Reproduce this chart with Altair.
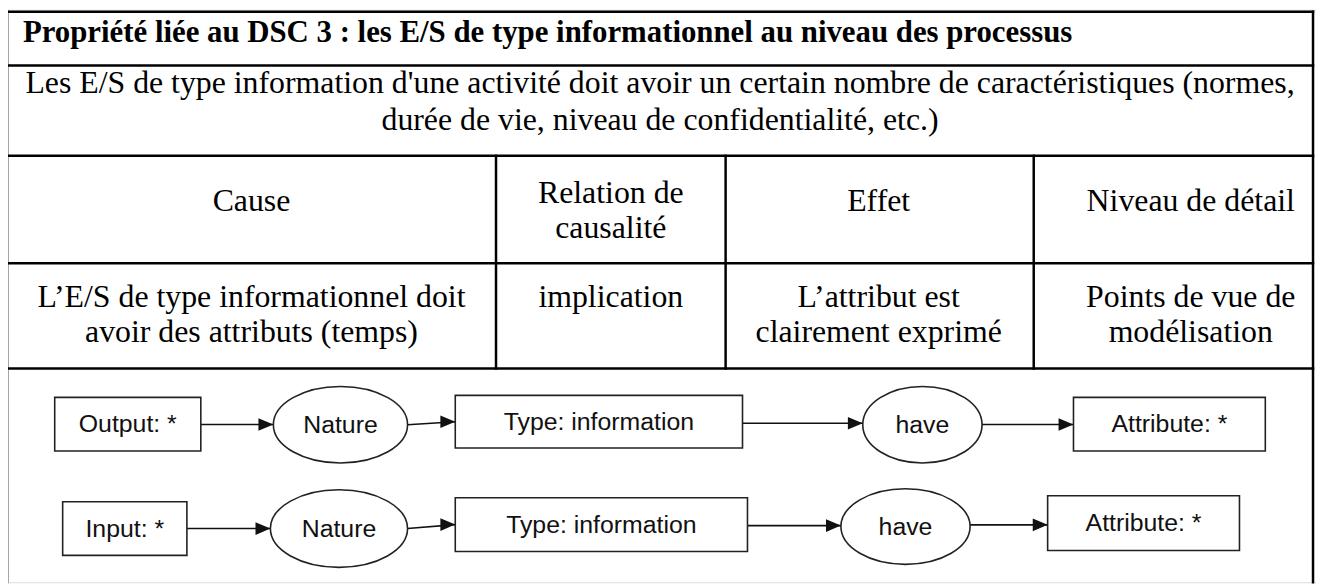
import altair as alt
import pandas as pd

# ---------------- content ----------------
TITLE = "Propriété liée au DSC 3 : les E/S de type informationnel  au niveau des processus"
DESCRIPTION = [
    "Les E/S de type information d'une activité doit avoir un certain nombre de caractéristiques (normes,",
    "durée de vie, niveau de confidentialité, etc.)",
]
HEADERS = [["Cause"], ["Relation de", "causalité"], ["Effet"], ["Niveau de détail"]]
CELLS = [
    ["L’E/S de type informationnel doit", "avoir des attributs (temps)"],
    ["implication"],
    ["L’attribut est", "clairement exprimé"],
    ["Points de vue de", "modélisation"],
]
ROW1_LABELS = ["Output: *", "Nature", "Type: information", "have", "Attribute: *"]
ROW2_LABELS = ["Input: *", "Nature", "Type: information", "have", "Attribute: *"]
NODE_KINDS = ["box", "ellipse", "box", "ellipse", "box"]

# ---------------- layout (page pixels) ----------------
TABLE_LEFT, TABLE_RIGHT, TABLE_TOP, PAGE_BOTTOM = 7, 1321, 10, 584
ROW_LINES = [10, 64, 155, 263, 369]
COL_EDGES = [7, 499, 730, 1040, 1321]
COL_TEXT_CENTERS = [253, 614.5, 884, 1198]
TITLE_POS = (23, 40)
DESC_BASELINES = [92, 129]
HEADER_BASELINES = {1: [210], 2: [202, 238]}
DATA_BASELINES = [307, 342]
# node extents: left, right, top, bottom
ROW1_GEOM = [(55, 202, 398, 452), (275, 410, 387, 464), (458, 747, 396, 449),
             (868, 988, 387, 464), (1080, 1273, 398, 452)]
ROW2_GEOM = [(63, 188, 503, 557), (272, 410, 491, 569), (458, 752, 499, 553),
             (846, 976, 490, 566), (1054, 1247, 497, 552)]

W, H = 1316, 576
xs = alt.Scale(domain=[8, 8 + W], nice=False, zero=False)
ys = alt.Scale(domain=[8, 8 + H], nice=False, zero=False, reverse=True)
X = lambda f: alt.X(f, type="quantitative", scale=xs, axis=None)
Y = lambda f: alt.Y(f, type="quantitative", scale=ys, axis=None)

SERIF = "Liberation Serif"
SANS = "Liberation Sans"

# ---------------- table lines ----------------
lines = []
for y in ROW_LINES:
    lines.append(dict(x=TABLE_LEFT, x2=TABLE_RIGHT, y=y, y2=y))
for x in (TABLE_LEFT, TABLE_RIGHT):
    lines.append(dict(x=x, x2=x, y=TABLE_TOP, y2=PAGE_BOTTOM))
for x in COL_EDGES[1:-1]:
    lines.append(dict(x=x, x2=x, y=ROW_LINES[2], y2=ROW_LINES[4]))
lines_df = pd.DataFrame(lines)
table_lines = alt.Chart(lines_df).mark_rule(color="#000", strokeWidth=2.5, strokeCap="square").encode(
    x=X("x"), x2="x2", y=Y("y"), y2="y2")

# ---------------- table text ----------------
title_df = pd.DataFrame([dict(x=TITLE_POS[0], y=TITLE_POS[1], t=TITLE)])
title = alt.Chart(title_df).mark_text(font=SERIF, fontSize=31, fontWeight="bold", align="left",
                                      baseline="alphabetic", color="#000").encode(x=X("x"), y=Y("y"), text="t:N")

texts = []
mid = (TABLE_LEFT + TABLE_RIGHT) / 2
for line, yb in zip(DESCRIPTION, DESC_BASELINES):
    texts.append(dict(x=mid, y=yb, t=line))
for i, cell in enumerate(HEADERS):
    for line, yb in zip(cell, HEADER_BASELINES[len(cell)]):
        texts.append(dict(x=COL_TEXT_CENTERS[i], y=yb, t=line))
for i, cell in enumerate(CELLS):
    for line, yb in zip(cell, DATA_BASELINES):
        texts.append(dict(x=COL_TEXT_CENTERS[i], y=yb, t=line))
texts_df = pd.DataFrame(texts)
body = alt.Chart(texts_df).mark_text(font=SERIF, fontSize=32, align="center", baseline="alphabetic",
                                     color="#000").encode(x=X("x"), y=Y("y"), text="t:N")

# ---------------- diagram ----------------
nodes, arrows = [], []
for labels, geom in ((ROW1_LABELS, ROW1_GEOM), (ROW2_LABELS, ROW2_GEOM)):
    for lab, kind, (l, r, t, b) in zip(labels, NODE_KINDS, geom):
        nodes.append(dict(label=lab, kind=kind, l=l, r=r, t=t, b=b, cx=(l + r) / 2, cy=(t + b) / 2))
    for k, ((l1, r1, t1, b1), (l2, r2, t2, b2)) in enumerate(zip(geom[:-1], geom[1:])):
        c1, c2 = (t1 + b1) / 2, (t2 + b2) / 2
        if k == 1:  # Nature -> Type rises slightly
            arrows.append(dict(x=r1, x2=l2, y=c1, y2=c2))
        else:
            m = (c1 + c2) / 2
            arrows.append(dict(x=r1, x2=l2, y=m, y2=m))
nodes_df = pd.DataFrame(nodes)
arrows_df = pd.DataFrame(arrows)

boxes = alt.Chart(nodes_df[nodes_df.kind == "box"]).mark_rect(
    fill="white", stroke="#222", strokeWidth=1.6).encode(x=X("l"), x2="r", y=Y("t"), y2="b")


def ellipse_path(ratio):
    k = 0.5523
    r = ratio
    return (f"M -1 0 C -1 {-k*r:.4f} {-k:.4f} {-r:.4f} 0 {-r:.4f} "
            f"C {k:.4f} {-r:.4f} 1 {-k*r:.4f} 1 0 "
            f"C 1 {k*r:.4f} {k:.4f} {r:.4f} 0 {r:.4f} "
            f"C {-k:.4f} {r:.4f} -1 {k*r:.4f} -1 0 Z")


ellipse_layers = []
for n in nodes:
    if n["kind"] != "ellipse":
        continue
    rx = (n["r"] - n["l"]) / 2
    ry = (n["b"] - n["t"]) / 2
    edf = pd.DataFrame([dict(cx=n["cx"], cy=n["cy"])])
    ellipse_layers.append(
        alt.Chart(edf).mark_point(shape=ellipse_path(ry / rx), size=(2 * rx) ** 2, filled=False,
                                  stroke="#222", strokeWidth=1.6, opacity=1)
        .encode(x=X("cx"), y=Y("cy"))
    )

arrow_lines = alt.Chart(arrows_df).mark_rule(color="#111", strokeWidth=1.6).encode(
    x=X("x"), x2="x2", y=Y("y"), y2="y2")
arrow_heads = alt.Chart(arrows_df).mark_point(
    shape="M 0 0 L -2 -0.85 L -2 0.85 Z", size=225, filled=True, color="#111", opacity=1,
    strokeWidth=0).encode(x=X("x2"), y=Y("y2"))

labels = alt.Chart(nodes_df).mark_text(font=SANS, fontSize=25, align="center", baseline="middle",
                                       color="#111").encode(x=X("cx"), y=Y("cy"), text="label:N")

chart = alt.layer(
    table_lines, title, body, arrow_lines, boxes, *ellipse_layers, arrow_heads, labels
).properties(width=W, height=H, autosize=alt.AutoSizeParams(type="none"), padding=0
).configure_view(strokeWidth=0).configure(background="white")

chart.save("out.html", embed_options={"renderer": "svg", "actions": False})
